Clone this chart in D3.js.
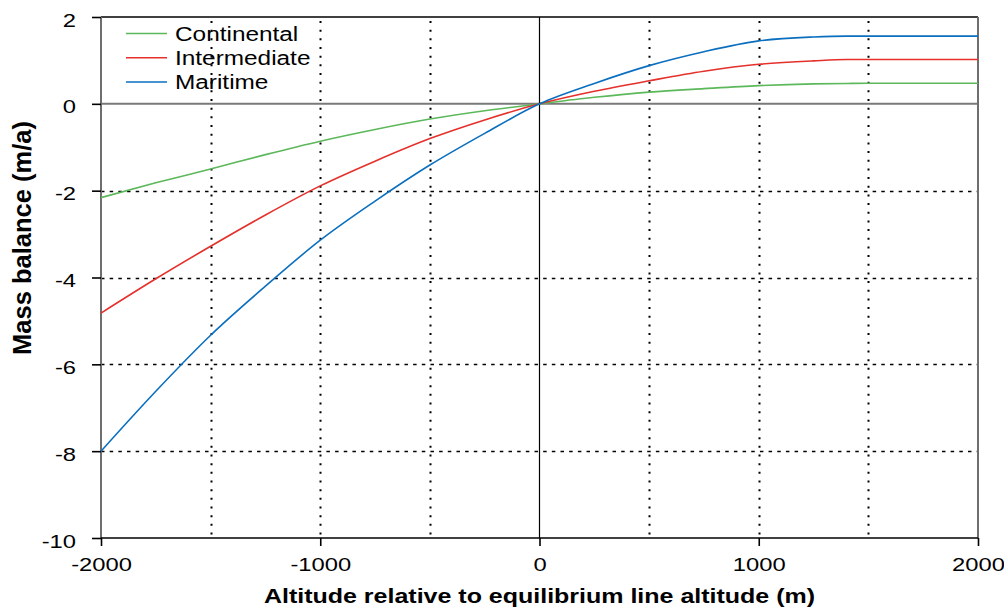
<!DOCTYPE html>
<html>
<head>
<meta charset="utf-8">
<script src="https://cdn.jsdelivr.net/npm/d3@7"></script>
<style>
  html, body { margin: 0; padding: 0; background: #fff; }
  svg { display: block; font-family: "Liberation Sans", Arial, sans-serif; }
</style>
</head>
<body>
<svg id="chart" width="1004" height="607"></svg>
<script>
// ---- data ----
const altitudes = [-2000, -1750, -1500, -1250, -1000, -750, -500, -250, 0, 250, 500, 750, 1000, 1250, 1400, 1500, 2000];
const continental = [-2.16, -1.82, -1.50, -1.17, -0.86, -0.59, -0.35, -0.16, 0, 0.15, 0.27, 0.35, 0.42, 0.46, 0.47, 0.475, 0.475];
const intermediate = [-4.82, -4.03, -3.28, -2.56, -1.89, -1.32, -0.80, -0.37, 0, 0.29, 0.53, 0.75, 0.91, 0.99, 1.02, 1.02, 1.02];
const maritime = [-8.00, -6.62, -5.33, -4.20, -3.14, -2.24, -1.41, -0.68, 0, 0.47, 0.88, 1.20, 1.45, 1.54, 1.56, 1.56, 1.56];
const seriesNames = ["Continental", "Intermediate", "Maritime"];
const seriesColors = ["#5cb85a", "#e5302b", "#0b6fbf"];
const xTicks = [-2000, -1000, 0, 1000, 2000];
const xGrid = [-1500, -1000, -500, 500, 1000, 1500];
const yTicks = [2, 0, -2, -4, -6, -8, -10];
const yGrid = [-2, -4, -6, -8];
const xTitle = "Altitude relative to equilibrium line altitude (m)";
const yTitle = "Mass balance (m/a)";

// ---- layout ----
const L = 101, R = 978, T = 17, B = 538;
const SX = 1.25; // horizontal stretch of text in the reference
const svg = d3.select("#chart");
const x = d3.scaleLinear().domain([-2000, 2000]).range([L, R]);
const y = d3.scaleLinear().domain([-10, 2]).range([B, T]);
const fmt = d => String(d);

// grid
svg.append("g").selectAll("line").data(xGrid).join("line")
  .attr("x1", d => Math.round(x(d)) + 0.5).attr("x2", d => Math.round(x(d)) + 0.5)
  .attr("y1", T + 4).attr("y2", B)
  .attr("stroke", "#000").attr("stroke-width", 2).attr("stroke-dasharray", "2,6.67");
svg.append("g").selectAll("line").data(yGrid).join("line")
  .attr("x1", L).attr("x2", R)
  .attr("y1", d => Math.round(y(d)) + 0.5).attr("y2", d => Math.round(y(d)) + 0.5)
  .attr("stroke", "#000").attr("stroke-width", 1.6).attr("stroke-dasharray", "3.5,5.17");

// zero lines
svg.append("line").attr("x1", L).attr("x2", R).attr("y1", y(0)).attr("y2", y(0))
  .attr("stroke", "#7a7a7a").attr("stroke-width", 2);
svg.append("line").attr("x1", x(0)).attr("x2", x(0)).attr("y1", T).attr("y2", B)
  .attr("stroke", "#000").attr("stroke-width", 1.2);

// frame
svg.append("line").attr("x1", L).attr("x2", R).attr("y1", T).attr("y2", T)
  .attr("stroke", "#000").attr("stroke-width", 1.6);
svg.append("line").attr("x1", R).attr("x2", R).attr("y1", T).attr("y2", B)
  .attr("stroke", "#6e6e6e").attr("stroke-width", 2);

// axes
const yAxis = svg.append("g").attr("transform", `translate(${L},0)`)
  .call(d3.axisLeft(y).tickValues(yTicks).tickSize(9).tickPadding(0).tickFormat(fmt));
yAxis.select(".domain").attr("stroke", "#6e6e6e").attr("stroke-width", 2)
  .attr("d", `M0,${T}V${B}`);
yAxis.selectAll(".tick line").attr("stroke", "#000").attr("stroke-width", 1.6);
yAxis.selectAll(".tick text")
  .attr("x", 0).attr("dy", null).attr("y", 0)
  .attr("transform", `translate(-25,9) scale(${SX},1)`)
  .attr("text-anchor", "end").attr("font-size", 19).attr("fill", "#000")
  .attr("font-family", "'Liberation Sans', Arial, sans-serif");

const xAxis = svg.append("g").attr("transform", `translate(0,${B})`)
  .call(d3.axisBottom(x).tickValues(xTicks).tickSize(8).tickPadding(0).tickFormat(fmt));
xAxis.select(".domain").attr("stroke", "#000").attr("stroke-width", 1.6)
  .attr("d", `M${L},0H${R}`);
xAxis.selectAll(".tick line").attr("stroke", "#000").attr("stroke-width", 1.6);
xAxis.selectAll(".tick text")
  .attr("y", 0).attr("dy", null)
  .attr("transform", `translate(0,33) scale(${SX},1)`)
  .attr("text-anchor", "middle").attr("font-size", 19).attr("fill", "#000")
  .attr("font-family", "'Liberation Sans', Arial, sans-serif");

// series
const line = d3.line().x(d => x(d[0])).y(d => y(d[1])).curve(d3.curveMonotoneX);
[continental, intermediate, maritime].forEach((vals, i) => {
  svg.append("path")
    .datum(altitudes.map((a, j) => [a, vals[j]]))
    .attr("d", line).attr("fill", "none")
    .attr("stroke", seriesColors[i]).attr("stroke-width", 1.6);
});

// legend
const lg = svg.append("g");
seriesNames.forEach((name, i) => {
  const by = 41 + i * 24.2;
  lg.append("line").attr("x1", 126).attr("x2", 167).attr("y1", by - 7.5).attr("y2", by - 7.5)
    .attr("stroke", seriesColors[i]).attr("stroke-width", 1.5);
  lg.append("g").attr("transform", `translate(175,${by})`)
    .append("text").attr("transform", `scale(${SX},1)`)
    .attr("font-size", 19.5).attr("fill", "#000").text(name);
});

// titles
svg.append("g").attr("transform", `translate(${(L + R) / 2},603)`)
  .append("text").attr("transform", `scale(${SX},1)`)
  .attr("text-anchor", "middle").attr("font-size", 20).attr("font-weight", "bold").text(xTitle);
svg.append("text").attr("transform", `translate(31,238) rotate(-90)`)
  .attr("text-anchor", "middle").attr("font-size", 25.5).attr("font-weight", "bold").text(yTitle);
</script>
</body>
</html>
